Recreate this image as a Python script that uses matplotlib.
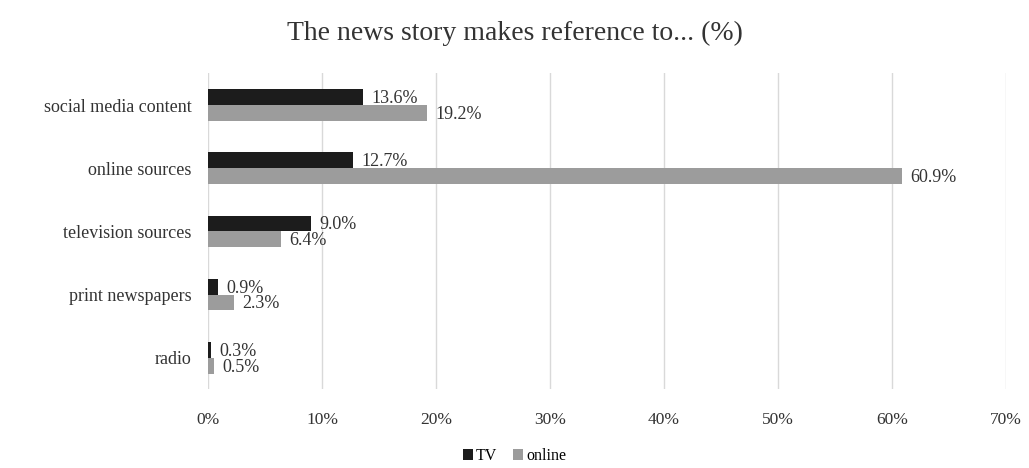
import matplotlib
matplotlib.use("Agg")
import matplotlib.pyplot as plt
import numpy as np

categories = ["social media content", "online sources", "television sources", "print newspapers", "radio"]
tv = [13.6, 12.7, 9.0, 0.9, 0.3]
online = [19.2, 60.9, 6.4, 2.3, 0.5]
xticks = [0, 10, 20, 30, 40, 50, 60, 70]
title = "The news story makes reference to... (%)"

plt.rcParams['font.family'] = ['Liberation Serif', 'DejaVu Serif']

fig = plt.figure(figsize=(10.29, 4.68), dpi=100)
ax = fig.add_axes([0.2021, 0.168, 0.7755, 0.675])

y = np.arange(len(categories))
h = 0.25
b1 = ax.barh(y - h/2, tv, height=h, color="#1c1c1c", label="TV", zorder=3)
b2 = ax.barh(y + h/2, online, height=h, color="#9c9c9c", label="online", zorder=3)

for yi, v in zip(y, tv):
    ax.annotate(f"{v:.1f}%", (v, yi - h/2), xytext=(6, -1), textcoords="offset points",
                ha="left", va="center", fontsize=13, color="#333333")
for yi, v in zip(y, online):
    ax.annotate(f"{v:.1f}%", (v, yi + h/2), xytext=(6, -1), textcoords="offset points",
                ha="left", va="center", fontsize=13, color="#333333")

ax.set_ylim(len(categories) - 0.5, -0.5)
ax.set_yticks(y)
ax.set_yticklabels(categories, fontsize=13, color="#333333")
ax.set_xlim(0, 70)
ax.set_xticks(xticks)
ax.set_xticklabels([f"{t}%" for t in xticks], fontsize=12.5, color="#333333")
ax.xaxis.grid(True, color="#d9d9d9", linewidth=1, zorder=0)
for s in ax.spines.values():
    s.set_visible(False)
ax.tick_params(axis="x", length=0, pad=16)
ax.tick_params(axis="y", length=0, pad=12)

fig.suptitle(title, y=0.955, fontsize=20, color="#333333")
fig.legend(handles=[b1, b2], labels=["TV", "online"], loc="lower center",
           bbox_to_anchor=(0.5, -0.022), ncol=2, frameon=False, fontsize=11.5,
           handlelength=0.6, handleheight=0.7, handletextpad=0.2, columnspacing=1.0)

fig.savefig("out.png", dpi=100)
